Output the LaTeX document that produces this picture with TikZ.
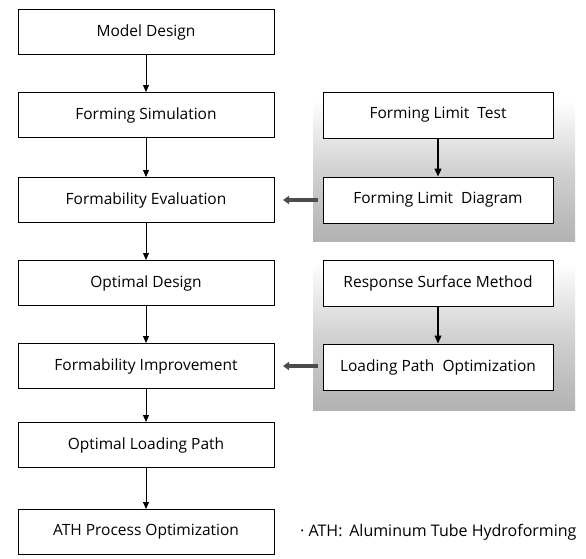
\documentclass[tikz,border=0pt]{standalone}
\usepackage{fontspec}
\setmainfont{Open Sans}
\usetikzlibrary{arrows.meta}
\begin{document}
\begin{tikzpicture}[x=1pt,y=-1pt,
  every node/.style={font=\fontsize{15.5}{17}\selectfont},
  stepbox/.style={draw=black,line width=1pt,fill=white,minimum width=256pt,minimum height=45pt,inner sep=0pt},
  sidebox/.style={draw=black,line width=1pt,fill=white,minimum width=230pt,minimum height=46pt,inner sep=0pt},
  flow/.style={line width=0.9pt,-{Triangle[length=7pt,width=6pt]}},
  sideflow/.style={line width=1.4pt,-{Triangle[length=8pt,width=7pt]}},
  feed/.style={line width=3.2pt,draw=black!70,-{Triangle[length=6pt,width=8pt]}},
  panel/.style={draw=none,top color=white,bottom color=black!30,middle color=black!18}]
\useasboundingbox (0,0) rectangle (586,558);
% shaded panels behind the right-hand columns, fading out towards the top
\shade[panel] (313,100) rectangle (575,241);
\shade[panel] (313,262) rectangle (575,410);
% main chain
\node[stepbox] (md) at (146,32) {Model Design};
\node[stepbox] (fs) at (146,115) {Forming Simulation};
\node[stepbox] (fe) at (146,200) {Formability Evaluation};
\node[stepbox] (od) at (146,283) {Optimal Design};
\node[stepbox] (fi) at (146,366) {Formability Improvement};
\node[stepbox] (ol) at (146,445) {Optimal Loading Path};
\node[stepbox] (ath) at (146,532) {ATH Process Optimization};
% side inputs
\node[sidebox] (flt) at (438,115) {Forming Limit\ \ Test};
\node[sidebox] (fld) at (438,200) {Forming Limit\ \ Diagram};
\node[sidebox] (rsm) at (438,283) {Response Surface Method};
\node[sidebox] (lpo) at (438,367) {Loading Path\ \ Optimization};
% footnote
\node[anchor=west,font=\fontsize{16}{18}\selectfont,inner sep=0pt] (note) at (300,532) {· ATH:\, Aluminum Tube Hydroforming};
% connectors
\draw[flow] (md) -- (fs);
\draw[flow] (fs) -- (fe);
\draw[flow] (fe) -- (od);
\draw[flow] (od) -- (fi);
\draw[flow] (fi) -- (ol);
\draw[flow] (ol) -- (ath);
\draw[sideflow] (flt) -- (fld);
\draw[sideflow] (rsm) -- (lpo);
\coordinate (fdA) at (318,200);
\coordinate (fdB) at (318,366);
\draw[feed] (fdA) -- (283,200);
\draw[feed] (fdB) -- (283,366);
\end{tikzpicture}
\end{document}
